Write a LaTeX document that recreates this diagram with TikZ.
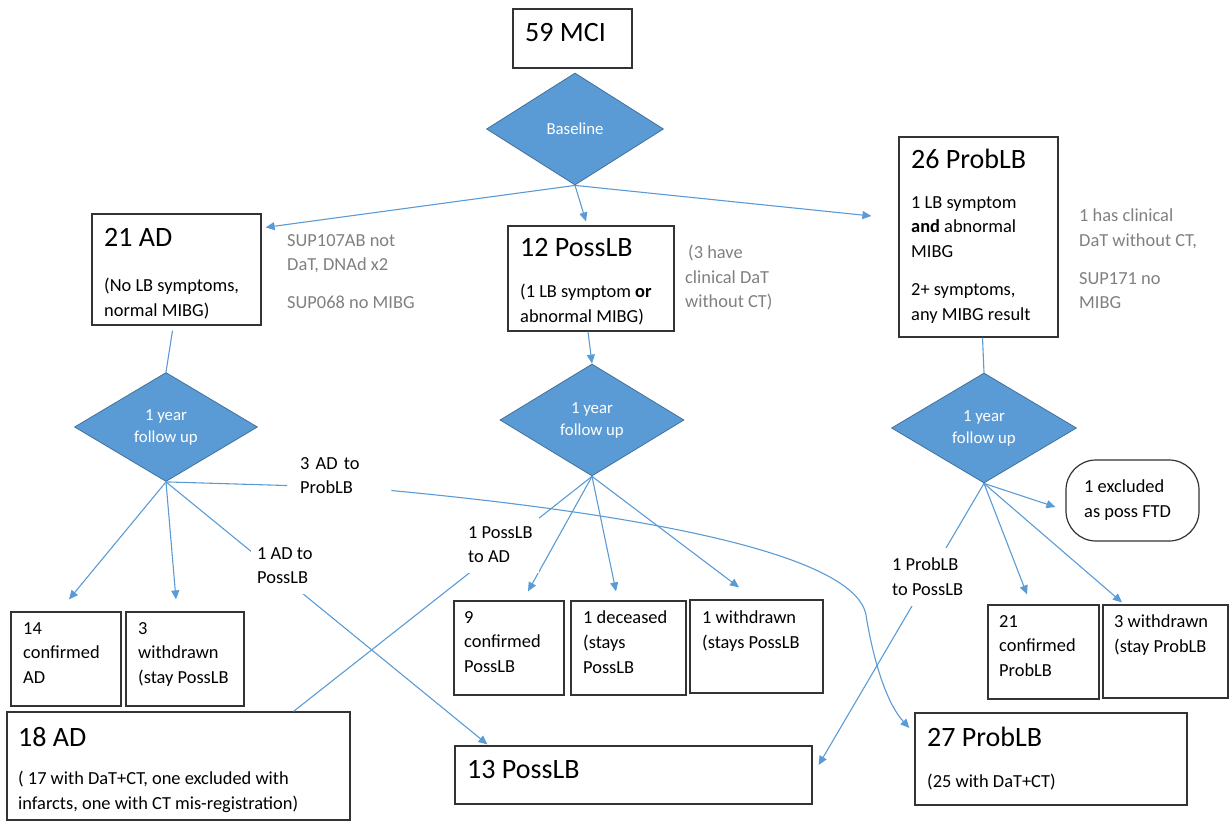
\documentclass[tikz,border=0pt]{standalone}
\usepackage{fontspec}
\setmainfont{Carlito}
\usetikzlibrary{positioning,arrows.meta,shapes.geometric}
\definecolor{flowblue}{RGB}{91,155,213}
\definecolor{flowedge}{RGB}{65,113,156}
\definecolor{notegray}{RGB}{128,128,128}
\newcommand{\ttlfont}{\fontsize{28}{32}\selectfont}
\newcommand{\bodyfont}{\fontsize{18.4}{24.6}\selectfont}
\newcommand{\diafont}{\fontsize{16.8}{22}\selectfont}
\tikzset{
  box/.style      = {draw=black!80, line width=1.2pt, inner sep=0pt},
  exclbox/.style  = {box, rounded corners=30pt},
  decide/.style   = {diamond, fill=flowblue, draw=flowedge, line width=0.8pt,
                     text=white, font=\diafont, align=center, inner sep=0pt},
  ttl/.style      = {font=\ttlfont, inner sep=0pt, anchor=west},
  bodytxt/.style  = {font=\bodyfont, inner sep=0pt, align=left, anchor=north west},
  notetxt/.style  = {bodytxt, text=notegray},
  edgelbl/.style  = {font=\bodyfont, fill=white, align=left, anchor=north west,
                     inner xsep=6pt, inner ysep=10pt},
  link/.style     = {draw=flowblue, line width=1.1pt},
  arr/.style      = {link, -{Triangle[length=9pt,width=8pt]}}
}

\begin{document}
\begin{tikzpicture}[x=1pt, y=-1pt]
  \useasboundingbox (0,0) rectangle (1229,821);
  % Start
  \node[box, minimum width=119pt, minimum height=59pt] (mci) at (572.5,38.5) {};
  \node[ttl] (mcit) at (525,33) {59 MCI};
  \node[decide, minimum width=177pt, minimum height=112pt] (base) at (575,129) {Baseline};
  % Baseline groups
  \node[box, minimum width=169pt, minimum height=111pt] (ad21) at (176.5,269.5) {};
  \node[ttl] (ad21t) at (104,237) {21 AD};
  \node[bodytxt] (ad21b) at (104,278) {(No LB symptoms,\\normal MIBG)};
  \node[box, minimum width=166pt, minimum height=105pt] (pos12) at (591,278.5) {};
  \node[ttl] (pos12t) at (520,248) {12 PossLB};
  \node[bodytxt] (pos12b) at (520,284) {(1 LB symptom \textbf{or}\\abnormal MIBG)};
  \node[box, minimum width=159pt, minimum height=200pt] (prob26) at (978.5,237) {};
  \node[ttl] (prob26t) at (911,159) {26 ProbLB};
  \node[bodytxt] (prob26b) at (911,196) {1 LB symptom\\\textbf{and} abnormal\\MIBG\\[14pt]2+ symptoms,\\any MIBG result};
  % Notes
  \node[notetxt] (note1) at (287,234) {SUP107AB not\\DaT, DNAd x2\\[13pt]SUP068 no MIBG};
  \node[notetxt] (note2) at (685,245) {\hspace{3pt}(3 have\\clinical DaT\\without CT)};
  \node[notetxt] (note3) at (1079,209) {1 has clinical\\DaT without CT,\\[13pt]SUP171 no\\MIBG};
  % Follow up
  \node[decide, minimum width=183pt, minimum height=109pt] (fu1) at (166,427) {1 year\\follow up};
  \node[decide, minimum width=184pt, minimum height=112pt] (fu2) at (592,420) {1 year\\follow up};
  \node[decide, minimum width=185pt, minimum height=110pt] (fu3) at (984,428) {1 year\\follow up};
  \node[exclbox, minimum width=133pt, minimum height=81pt] (excl) at (1132.5,500.5) {};
  \node[bodytxt] (exclt) at (1084,480) {1 excluded\\as poss FTD};
  % Outcomes
  \node[box, minimum width=110pt, minimum height=94pt] (c14) at (66,659) {};
  \node[bodytxt] (c14t) at (23,622) {14\\confirmed\\AD};
  \node[box, minimum width=118pt, minimum height=94pt] (w3) at (185,659) {};
  \node[bodytxt] (w3t) at (138,622) {3\\withdrawn\\(stay PossLB};
  \node[box, minimum width=110pt, minimum height=94pt] (c9) at (509,648) {};
  \node[bodytxt] (c9t) at (464,611) {9\\confirmed\\PossLB};
  \node[box, minimum width=115pt, minimum height=94pt] (dec1) at (628.5,648) {};
  \node[bodytxt] (dec1t) at (583,611) {1 deceased\\(stays\\PossLB};
  \node[box, minimum width=133pt, minimum height=93pt] (wd1) at (756.5,646.5) {};
  \node[bodytxt] (wd1t) at (702,611) {1 withdrawn\\(stays PossLB};
  \node[box, minimum width=111pt, minimum height=94pt] (c21) at (1043.5,652) {};
  \node[bodytxt] (c21t) at (999,615) {21\\confirmed\\ProbLB};
  \node[box, minimum width=125pt, minimum height=93pt] (w3p) at (1165.5,651.5) {};
  \node[bodytxt] (w3pt) at (1114,615) {3 withdrawn\\(stay ProbLB};
  % Totals
  \node[box, minimum width=343pt, minimum height=108pt] (ad18) at (178.5,766) {};
  \node[ttl] (ad18t) at (18,737) {18 AD};
  \node[bodytxt] (ad18b) at (18,771) {( 17 with DaT+CT, one excluded with\\infarcts, one with CT mis-registration)};
  \node[box, minimum width=357pt, minimum height=58pt] (pos13) at (633.5,775) {};
  \node[ttl] (pos13t) at (467,770) {13 PossLB};
  \node[box, minimum width=272pt, minimum height=92pt] (prob27) at (1051,759) {};
  \node[ttl] (prob27t) at (927,737) {27 ProbLB};
  \node[bodytxt] (prob27b) at (927,774) {(25 with DaT+CT)};
  \node[edgelbl, inner xsep=13pt, inner ysep=4pt, text width=78pt] (l3) at (287,453) {3 AD to\\ProbLB};
  % Edges
  \draw[arr] (base.south) -- ([xshift=4pt,yshift=-14pt]ad21.north east);
  \draw[arr] (base.south) -- ([xshift=-5pt,yshift=4pt]pos12.north);
  \draw[arr] (base.south) -- ([xshift=-27pt,yshift=21pt]prob26.west);
  \draw[link] ([xshift=-4pt,yshift=-5pt]ad21.south) -- (fu1.north);
  \draw[arr] ([xshift=-3pt]pos12.south) -- (fu2.north);
  \draw[link] ([xshift=4pt]prob26.south) -- (fu3.north);
  \draw[arr] (fu1.south) -- ([xshift=3pt,yshift=12pt]c14.north);
  \draw[arr] (fu1.south) -- ([xshift=-9pt,yshift=12pt]w3.north);
  \draw[arr] (fu1.south) -- ([xshift=33pt,yshift=1pt]pos13.north west);
  \draw[link] (fu1.south) -- ([yshift=-10pt]l3.west);
  \draw[arr] ([yshift=-15pt]l3.east) .. controls (650,515) and (855,555) .. (866,615)
             .. controls (874,665) and (888,705) .. ([xshift=-5pt,yshift=31pt]prob27.west);
  \draw[arr] (fu2.south) -- ([xshift=19pt,yshift=9pt]c9.north);
  \draw[arr] (fu2.south) -- ([xshift=-12.5pt,yshift=9pt]dec1.north);
  \draw[arr] (fu2.south) -- ([xshift=-17.5pt,yshift=12pt]wd1.north);
  \draw[link] (fu2.south) -- ([xshift=115pt]ad18.north);
  \draw[arr] (fu3.south) -- ([xshift=-10pt,yshift=-6.5pt]excl.west);
  \draw[arr] (fu3.south) -- ([xshift=-16.5pt,yshift=10pt]c21.north);
  \draw[arr] (fu3.south) -- ([xshift=-43.5pt,yshift=2pt]w3p.north);
  \draw[arr] (fu3.south) -- ([xshift=6pt,yshift=10pt]pos13.east);
  % Edge labels
  \node[edgelbl] (l1ad) at (251,537) {1 AD to\\PossLB};
  \node[edgelbl] (l1pos) at (462,516) {1 PossLB\\to AD};
  \node[edgelbl] (l1prob) at (886,548) {1 ProbLB\\to PossLB};
\end{tikzpicture}
\end{document}
